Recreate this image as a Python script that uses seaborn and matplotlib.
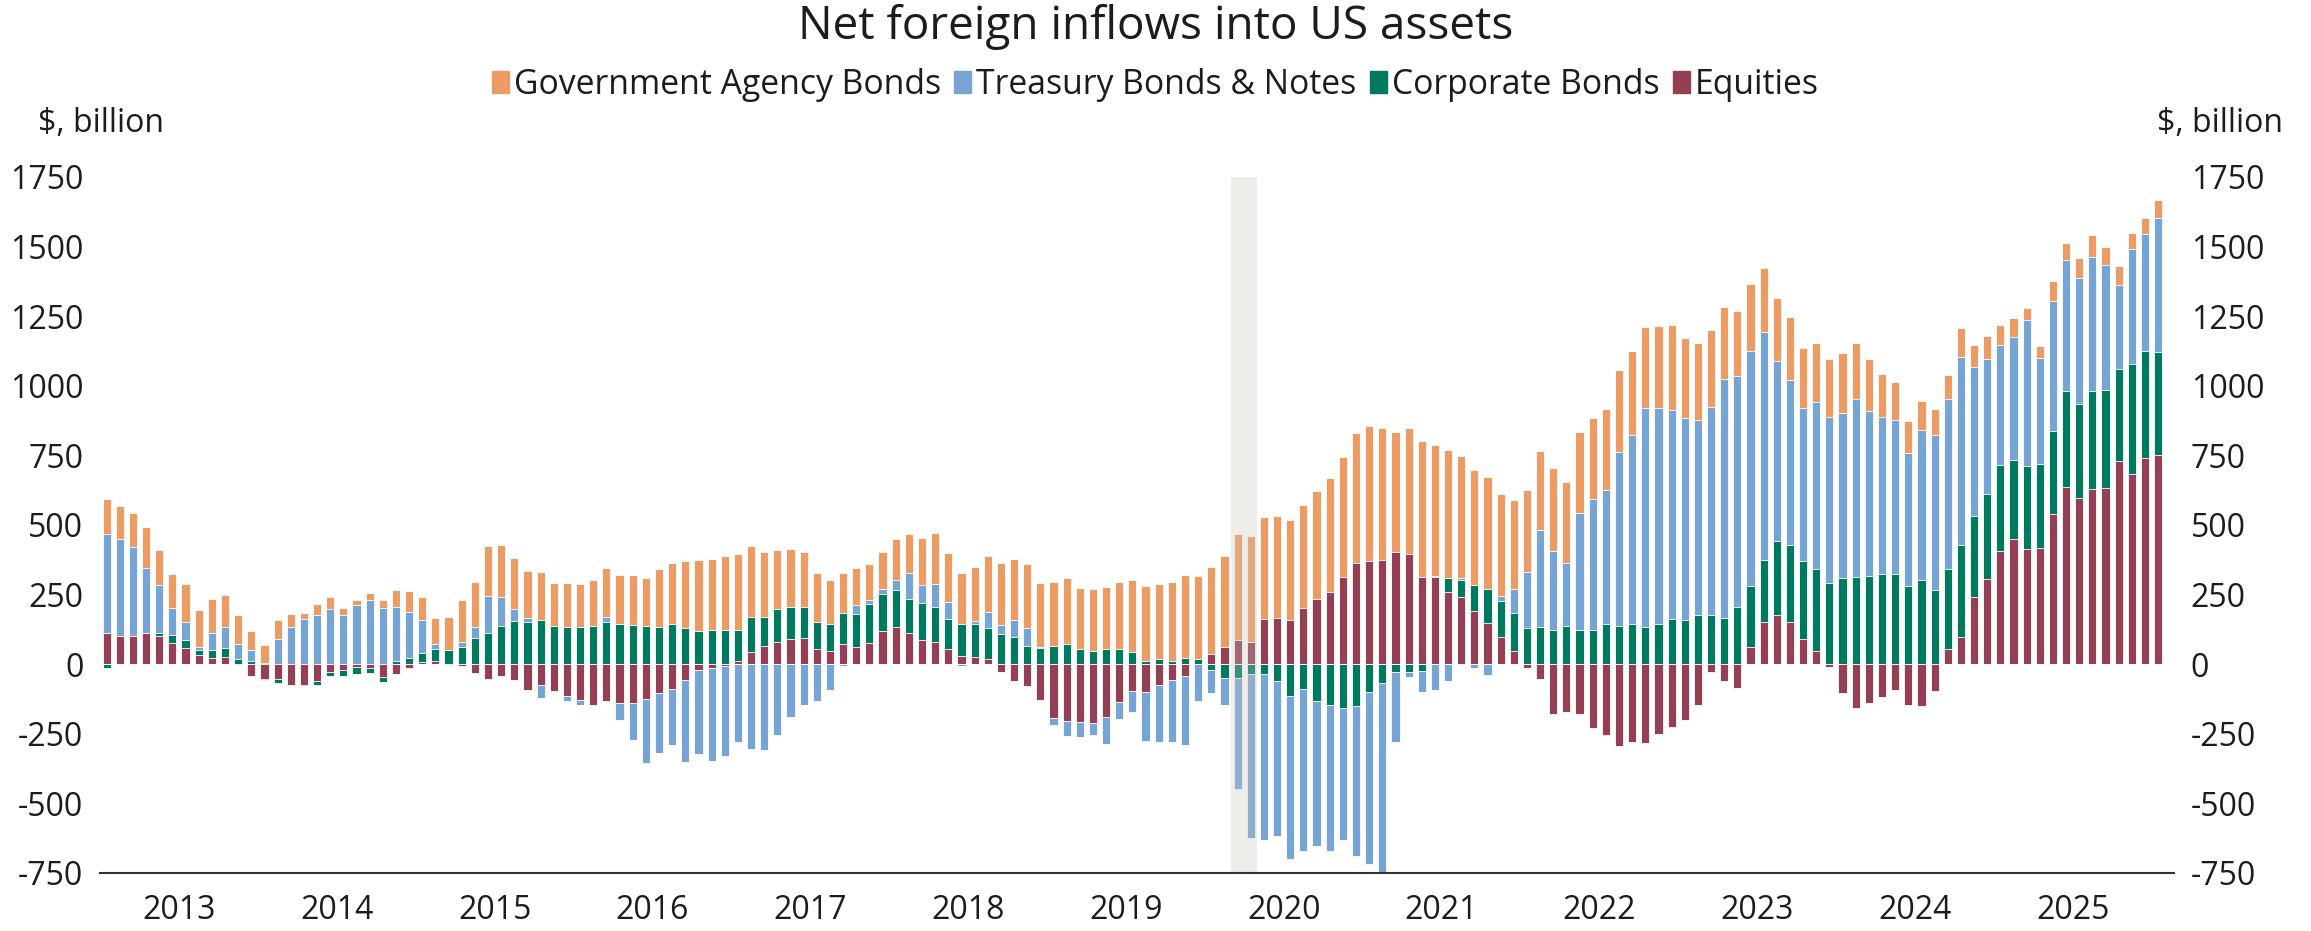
import numpy as np
import matplotlib.pyplot as plt
from matplotlib.patches import Patch
import seaborn as sns

# monthly, Jan 2013 .. Jan 2026, $ billion
years = list(range(2013, 2026))
series_names = ['Government Agency Bonds', 'Treasury Bonds & Notes', 'Corporate Bonds', 'Equities']

equities = [111, 103, 103, 111, 101, 76, 59, 34, 24, 27, -3, -42,
            -54, -54, -74, -74, -59, -29, -22, -10, -13, -47, -34, -15,
            7, 10, -3, -8, -30, -54, -44, -55, -91, -76, -96, -114,
            -128, -145, -133, -138, -138, -124, -103, -89, -57, -22, -12, -7,
            12, 45, 64, 81, 91, 94, 55, 47, 74, 62, 77, 118,
            134, 113, 87, 81, 54, 30, 27, 17, -27, -62, -77, -128,
            -195, -205, -208, -213, -188, -134, -98, -101, -74, -57, -42, 0,
            37, 61, 86, 81, 163, 165, 158, 203, 234, 261, 314, 365,
            371, 375, 403, 397, 314, 313, 259, 242, 192, 148, 96, 49,
            -13, -54, -180, -173, -180, -229, -256, -293, -281, -284, -250, -224,
            -202, -148, -27, -61, -86, 62, 150, 175, 150, 91, 49, -10,
            -103, -156, -138, -119, -92, -148, -151, -98, 54, 99, 242, 306,
            408, 450, 414, 419, 541, 637, 597, 630, 634, 730, 682, 741,
            750]
corporate = [-13, 0, -2, -2, 12, 29, 27, 17, 27, 30, 18, 12,
             -3, -13, 0, -3, -17, -13, -20, -25, -20, -18, 10, 24,
             34, 45, 50, 61, 94, 111, 138, 155, 151, 158, 136, 133,
             133, 136, 150, 146, 141, 136, 133, 143, 129, 121, 124, 124,
             111, 124, 104, 118, 116, 111, 96, 96, 109, 118, 138, 133,
             134, 121, 134, 126, 108, 114, 116, 114, 108, 98, 66, 57,
             64, 72, 54, 47, 54, 54, 45, 10, 20, 10, 24, 17,
             -20, -49, -49, -34, -35, -61, -113, -89, -131, -146, -156, -150,
             -99, -66, -29, -27, -25, 3, 49, 61, 92, 123, 131, 136,
             129, 133, 124, 136, 123, 123, 143, 138, 143, 133, 143, 161,
             158, 175, 178, 166, 207, 220, 224, 269, 277, 281, 292, 292,
             308, 313, 318, 324, 324, 282, 303, 267, 289, 329, 289, 304,
             309, 282, 299, 301, 298, 346, 336, 353, 350, 329, 395, 385,
             373]
treasury = [358, 346, 319, 235, 171, 96, 64, 12, 62, 77, 54, 40,
            5, 91, 133, 163, 178, 198, 175, 212, 232, 202, 197, 165,
            116, 17, -2, 17, 40, 134, 104, 45, 15, -44, 0, -18,
            -17, 0, 20, -61, -134, -232, -215, -202, -294, -301, -336, -324,
            -281, -304, -308, -255, -190, -145, -131, -92, -7, 32, 15, 18,
            35, 92, 64, 81, 62, -7, 13, 55, 32, 59, 64, 5,
            -24, -52, -52, -42, -99, -62, -74, -176, -205, -222, -249, -133,
            -84, -97, -398, -591, -598, -555, -588, -583, -521, -526, -477, -538,
            -618, -710, -252, -18, -74, -92, -59, 5, -13, -39, 18, 84,
            203, 350, 281, 229, 420, 469, 482, 625, 682, 787, 777, 753,
            728, 701, 745, 859, 827, 843, 818, 644, 593, 550, 600, 595,
            595, 640, 593, 563, 553, 477, 538, 556, 608, 676, 538, 486,
            430, 445, 524, 380, 467, 469, 454, 481, 449, 303, 413, 420,
            479]
agency = [126, 118, 121, 148, 126, 123, 138, 131, 121, 113, 104, 69,
          64, 67, 47, 20, 39, 44, 27, 20, 25, 27, 59, 74,
          86, 94, 121, 151, 161, 180, 185, 183, 168, 173, 156, 160,
          155, 165, 176, 175, 178, 173, 208, 222, 242, 254, 254, 266,
          272, 255, 234, 210, 207, 199, 175, 160, 146, 134, 129, 134,
          145, 143, 168, 185, 176, 182, 192, 202, 222, 222, 229, 230,
          230, 239, 219, 224, 225, 242, 257, 272, 267, 287, 298, 299,
          311, 326, 380, 380, 365, 366, 360, 368, 388, 407, 429, 465,
          484, 474, 430, 450, 487, 472, 460, 440, 415, 400, 365, 321,
          292, 284, 299, 290, 291, 291, 292, 294, 299, 292, 296, 303,
          284, 279, 276, 259, 234, 239, 232, 229, 227, 215, 212, 208,
          215, 202, 185, 157, 135, 113, 104, 94, 89, 103, 79, 84,
          72, 66, 44, 44, 72, 62, 72, 77, 66, 69, 59, 57,
          66]

colors = ['#943f54', '#007a5f', '#76a5d5', '#ec9c62']  # equities, corporate, treasury, agency
text_col = '#1c1c1c'

sns.set_style('white')
plt.rcParams['font.family'] = ['Open Sans', 'DejaVu Sans']
plt.rcParams['axes.unicode_minus'] = False

months = np.arange(len(equities))
stack = np.array([equities, corporate, treasury, agency], dtype=float)
pos = np.clip(stack, 0, None).cumsum(axis=0)
neg = np.clip(stack, None, 0).cumsum(axis=0)

fig = plt.figure(figsize=(23.11, 9.31), dpi=100)
ax = fig.add_axes([0.0433, 0.0623, 0.8974, 0.7476])

# draw outer cumulative first so the inner layers sit on top
for k in range(3, -1, -1):
    for vals in (pos[k], neg[k]):
        sns.barplot(x=months, y=vals, color=colors[k], saturation=1, errorbar=None,
                    width=0.62, edgecolor='white', linewidth=0.6, ax=ax)

# Mar-Apr 2020 shading
ax.axvspan(85.5, 87.5, color='#c9c4bc', alpha=0.3, lw=0, zorder=5)

ax.set_ylim(-750, 1750)
ax.set_xlim(-0.5, 157.2)
ax.set_yticks(range(-750, 1751, 250))
ax.set_xticks([-0.5 + 12 * k for k in range(14)])
ax.set_xticklabels([])
ax.set_xticks([5.5 + 12 * k for k in range(len(years))], minor=True)
ax.set_xticklabels([str(y) for y in years], minor=True)
ax.set_xlabel('')
ax.set_ylabel('')

ax.tick_params(axis='x', which='major', length=8, width=1.5, color='#333333', direction='out')
ax.tick_params(axis='x', which='minor', length=0, pad=15, labelsize=23, labelcolor=text_col)
ax.tick_params(axis='y', length=0, labelleft=True, labelright=True, pad=12,
               labelsize=23, labelcolor=text_col)

for s in ['top', 'left', 'right']:
    ax.spines[s].set_visible(False)
ax.spines['bottom'].set_color('#333333')
ax.spines['bottom'].set_linewidth(1.5)
ax.spines['bottom'].set_zorder(6)

fig.text(0.5, 1 - 27 / 931, 'Net foreign inflows into US assets', ha='center', va='center',
         fontsize=33, color=text_col)
handles = [Patch(color=c) for c in colors[::-1]]
fig.legend(handles, series_names, loc='center', bbox_to_anchor=(0.5, 1 - 85 / 931), ncol=4,
           frameon=False, fontsize=24.3, handlelength=0.5, handleheight=0.6,
           handletextpad=0.15, columnspacing=0.4, labelcolor=text_col)
fig.text(38 / 2311, 1 - 123 / 931, '$, billion', ha='left', va='center', fontsize=23, color=text_col)
fig.text(2283 / 2311, 1 - 123 / 931, '$, billion', ha='right', va='center', fontsize=23, color=text_col)

fig.savefig('out.png', dpi=100)
